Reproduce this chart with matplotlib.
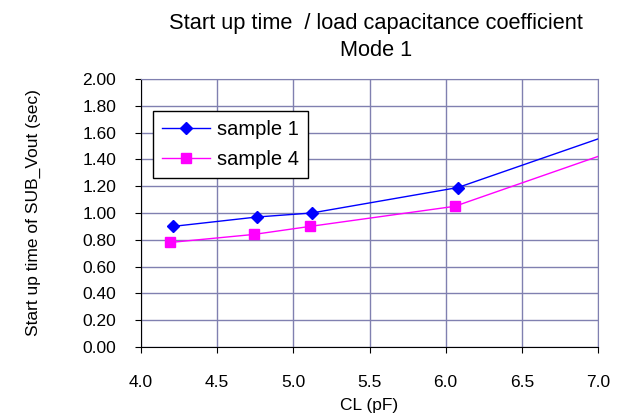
import matplotlib.pyplot as plt
from matplotlib.ticker import FormatStrFormatter

plt.rcParams['font.family'] = ['Liberation Sans', 'DejaVu Sans']

# data (last point lies beyond the x-range, clipped)
cl_s1 = [4.21, 4.76, 5.12, 6.08, 7.5]
t_s1 = [0.90, 0.97, 1.00, 1.19, 1.75]
cl_s4 = [4.19, 4.74, 5.11, 6.06, 7.5]
t_s4 = [0.78, 0.84, 0.90, 1.05, 1.62]

x_ticks = [4.0, 4.5, 5.0, 5.5, 6.0, 6.5, 7.0]
y_ticks = [0.0, 0.2, 0.4, 0.6, 0.8, 1.0, 1.2, 1.4, 1.6, 1.8, 2.0]

grid_col = '#8080b0'
W, H = 629, 419

fig = plt.figure(figsize=(6.29, 4.19), dpi=100)
ax = fig.add_axes([141 / W, 1 - 347 / H, 457 / W, 268 / H])

ax.plot(cl_s1, t_s1, color='#0000ff', lw=1, marker='D', ms=6, label='sample 1')
ax.plot(cl_s4, t_s4, color='#ff00ff', lw=1, marker='s', ms=6.5, label='sample 4')

ax.set_xlim(4.0, 7.0)
ax.set_ylim(0.0, 2.0)
ax.set_xticks(x_ticks)
ax.set_yticks(y_ticks)
ax.xaxis.set_major_formatter(FormatStrFormatter('%.1f'))
ax.yaxis.set_major_formatter(FormatStrFormatter('%.2f'))
ax.tick_params(direction='out', length=4, labelsize=12.5)
ax.tick_params(axis='x', pad=16)
ax.tick_params(axis='y', pad=14)
ax.grid(True, color=grid_col, lw=1)
ax.set_axisbelow(True)
for s in ['top', 'right']:
    ax.spines[s].set_color(grid_col)
for s in ['left', 'bottom']:
    ax.spines[s].set_color('black')

ax.set_xlabel('CL (pF)', fontsize=12.5)
ax.xaxis.set_label_coords(0.5, (347 - 398) / 268)
ax.set_ylabel('Start up time of SUB_Vout (sec)', fontsize=12.5)
ax.yaxis.set_label_coords((41 - 141) / 457, 0.5)

fig.text(376 / W, 1 - 24 / H, 'Start up time  / load capacitance coefficient',
         fontsize=15.7, ha='center', va='center')
fig.text(376 / W, 1 - 50 / H, 'Mode 1', fontsize=15.7, ha='center', va='center')

leg = ax.legend(loc='upper left', bbox_to_anchor=(0.026, 0.88), fontsize=14.5,
                fancybox=False, framealpha=1, edgecolor='black', borderaxespad=0,
                handlelength=2.4, handletextpad=0.35, borderpad=0.45,
                labelspacing=0.55)
leg.get_frame().set_linewidth(1)

fig.savefig('out.png', dpi=100)
